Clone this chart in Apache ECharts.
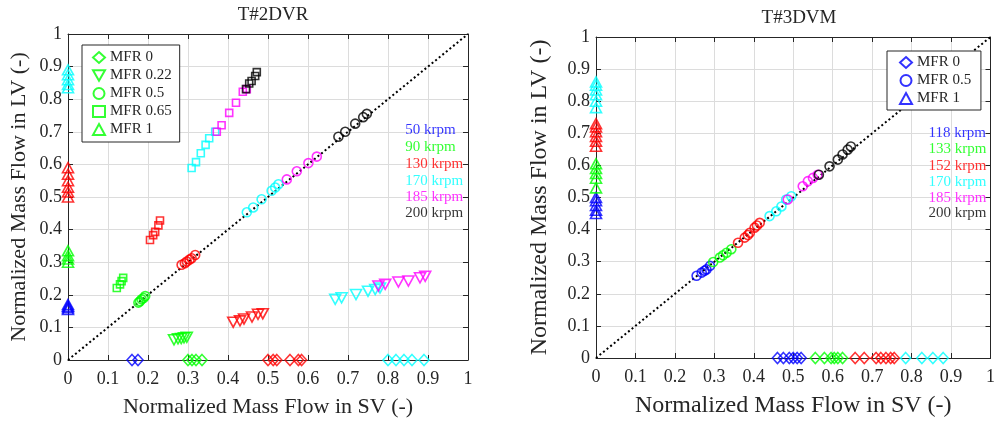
<!DOCTYPE html>
<html><head><meta charset="utf-8">
<script src="https://cdn.jsdelivr.net/npm/echarts@6/dist/echarts.min.js"></script>
<style>html,body{margin:0;padding:0;background:#fff}#c{width:998px;height:423px}</style>
</head><body><div id="c"></div>
<script>
// ---------- Left plot: T#2DVR ----------
var L_title = 'T#2DVR';
var L_mfr0_50  = [[0.16,0],[0.175,0]];
var L_mfr0_90  = [[0.30,0],[0.31,0],[0.32,0],[0.335,0]];
var L_mfr0_130 = [[0.50,0],[0.513,0],[0.522,0],[0.555,0],[0.576,0],[0.584,0]];
var L_mfr0_170 = [[0.80,0],[0.82,0],[0.84,0],[0.86,0],[0.89,0]];

var L_mfr022_90  = [[0.265,0.062],[0.275,0.065],[0.283,0.066],[0.29,0.068],[0.297,0.07]];
var L_mfr022_130 = [[0.413,0.116],[0.43,0.12],[0.44,0.126],[0.46,0.132],[0.475,0.14],[0.487,0.142]];
var L_mfr022_170 = [[0.668,0.186],[0.684,0.191],[0.72,0.201],[0.75,0.211],[0.768,0.216],[0.78,0.221]];
var L_mfr022_185 = [[0.776,0.227],[0.793,0.232],[0.826,0.239],[0.851,0.242],[0.88,0.252],[0.893,0.257]];

var L_mfr05_90  = [[0.176,0.176],[0.18,0.18],[0.184,0.186],[0.189,0.19],[0.193,0.196]];
var L_mfr05_130 = [[0.284,0.292],[0.292,0.297],[0.297,0.302],[0.304,0.308],[0.309,0.312],[0.318,0.322]];
var L_mfr05_170 = [[0.447,0.453],[0.463,0.468],[0.484,0.493],[0.509,0.519],[0.518,0.529],[0.526,0.539]];
var L_mfr05_185 = [[0.547,0.554],[0.572,0.579],[0.601,0.604],[0.622,0.624]];
var L_mfr05_200 = [[0.676,0.685],[0.693,0.700],[0.718,0.725],[0.738,0.745],[0.747,0.755]];

var L_mfr065_90  = [[0.122,0.221],[0.13,0.232],[0.134,0.242],[0.138,0.252]];
var L_mfr065_130 = [[0.205,0.368],[0.213,0.383],[0.218,0.393],[0.226,0.413],[0.23,0.428]];
var L_mfr065_170 = [[0.309,0.589],[0.32,0.607],[0.332,0.634],[0.344,0.660],[0.353,0.680],[0.368,0.700]];
var L_mfr065_185 = [[0.372,0.700],[0.384,0.720],[0.403,0.758],[0.42,0.789],[0.437,0.823],[0.447,0.831]];
var L_mfr065_200 = [[0.445,0.831],[0.453,0.848],[0.459,0.856],[0.468,0.871],[0.472,0.883]];

var L_mfr1_50  = [[0,0.155],[0,0.16],[0,0.165],[0,0.17]];
var L_mfr1_90  = [[0,0.30],[0,0.31],[0,0.32],[0,0.335]];
var L_mfr1_130 = [[0,0.50],[0,0.515],[0,0.53],[0,0.55],[0,0.57],[0,0.59]];
var L_mfr1_170 = [[0,0.835],[0,0.845],[0,0.86],[0,0.875],[0,0.89]];

var L_speeds = ['50 krpm','90 krpm','130 krpm','170 krpm','185 krpm','200 krpm'];

// ---------- Right plot: T#3DVM ----------
var R_title = 'T#3DVM';
var R_mfr0_118 = [[0.46,0],[0.475,0],[0.49,0],[0.50,0],[0.51,0],[0.52,0]];
var R_mfr0_133 = [[0.556,0],[0.579,0],[0.596,0],[0.604,0],[0.613,0],[0.625,0]];
var R_mfr0_152 = [[0.657,0],[0.68,0],[0.71,0],[0.722,0],[0.735,0],[0.747,0],[0.756,0]];
var R_mfr0_170 = [[0.785,0],[0.826,0],[0.854,0],[0.88,0]];

var R_mfr05_118 = [[0.255,0.256],[0.268,0.266],[0.275,0.272],[0.28,0.276],[0.289,0.287]];
var R_mfr05_133 = [[0.297,0.299],[0.314,0.313],[0.322,0.32],[0.331,0.328],[0.343,0.339]];
var R_mfr05_152 = [[0.36,0.359],[0.377,0.375],[0.385,0.383],[0.39,0.39],[0.402,0.406],[0.408,0.413],[0.415,0.421]];
var R_mfr05_170 = [[0.44,0.442],[0.457,0.457],[0.47,0.472],[0.482,0.494],[0.495,0.504]];
var R_mfr05_185 = [[0.486,0.494],[0.524,0.535],[0.537,0.551],[0.55,0.561],[0.562,0.571]];
var R_mfr05_200 = [[0.565,0.571],[0.592,0.597],[0.613,0.618],[0.625,0.634],[0.638,0.649],[0.646,0.659]];

var R_mfr1_118 = [[0,0.45],[0,0.46],[0,0.475],[0,0.49],[0,0.50]];
var R_mfr1_133 = [[0,0.53],[0,0.56],[0,0.575],[0,0.59],[0,0.605]];
var R_mfr1_152 = [[0,0.66],[0,0.675],[0,0.69],[0,0.705],[0,0.72],[0,0.73]];
var R_mfr1_170 = [[0,0.78],[0,0.80],[0,0.82],[0,0.835],[0,0.85],[0,0.86]];

var R_speeds = ['118 krpm','133 krpm','152 krpm','170 krpm','185 krpm','200 krpm'];

var ticks = [0,0.1,0.2,0.3,0.4,0.5,0.6,0.7,0.8,0.9,1];
var diagonal = [[0,0],[1,1]];

// ---------- styling ----------
var C = {blue:'#0000ff', green:'#00ff00', red:'#ff0000', cyan:'#00ffff', magenta:'#ff00ff', black:'#000000'};
var speedColors = [C.blue, C.green, C.red, C.cyan, C.magenta, C.black];
var FONT = '"Liberation Serif", "Times New Roman", serif';
var DOWN = 'path://M0,0L20,0L10,17.3Z';
var SYM = {
  d: {symbol:'diamond', size:[10,11]},
  v: {symbol:DOWN, size:[11,10]},
  o: {symbol:'circle', size:9},
  s: {symbol:'rect', size:7},
  t: {symbol:'triangle', size:[11,10]}
};

var series = [];
function sc(name, gi, data, mk, color) {
  series.push({
    type:'scatter', name:name, xAxisIndex:gi, yAxisIndex:gi, data:data,
    symbol:SYM[mk].symbol, symbolSize:SYM[mk].size,
    itemStyle:{color:'rgba(0,0,0,0)', borderColor:color, borderWidth:1.6},
    emphasis:{disabled:true}, z:3
  });
}
function diag(gi) {
  series.push({type:'line', xAxisIndex:gi, yAxisIndex:gi, data:diagonal, symbol:'none',
    lineStyle:{color:'#000', width:2, type:[2,2.6]}, z:2, silent:true});
}
function speedText(gi, names, ys) {
  series.push({type:'scatter', xAxisIndex:gi, yAxisIndex:gi, symbolSize:0, silent:true, z:5,
    data: names.map(function(n,i){ return {value:[0.843, ys[i]], name:n,
      label:{show:true, position:'right', distance:0, formatter:n, color:speedColors[i], fontFamily:FONT, fontSize:15}}; })
  });
}

// left plot series (first-named series supply legend icons)
diag(0);
sc('MFR 0', 0, L_mfr0_90, 'd', C.green);
sc('MFR 0.22', 0, L_mfr022_90, 'v', C.green);
sc('MFR 0.5', 0, L_mfr05_90, 'o', C.green);
sc('MFR 0.65', 0, L_mfr065_90, 's', C.green);
sc('MFR 1', 0, L_mfr1_90, 't', C.green);
sc('L0-50', 0, L_mfr0_50, 'd', C.blue);
sc('L0-130', 0, L_mfr0_130, 'd', C.red);
sc('L0-170', 0, L_mfr0_170, 'd', C.cyan);
sc('L22-130', 0, L_mfr022_130, 'v', C.red);
sc('L22-170', 0, L_mfr022_170, 'v', C.cyan);
sc('L22-185', 0, L_mfr022_185, 'v', C.magenta);
sc('L5-130', 0, L_mfr05_130, 'o', C.red);
sc('L5-170', 0, L_mfr05_170, 'o', C.cyan);
sc('L5-185', 0, L_mfr05_185, 'o', C.magenta);
sc('L5-200', 0, L_mfr05_200, 'o', C.black);
sc('L65-130', 0, L_mfr065_130, 's', C.red);
sc('L65-170', 0, L_mfr065_170, 's', C.cyan);
sc('L65-185', 0, L_mfr065_185, 's', C.magenta);
sc('L65-200', 0, L_mfr065_200, 's', C.black);
sc('L1-50', 0, L_mfr1_50, 't', C.blue);
sc('L1-130', 0, L_mfr1_130, 't', C.red);
sc('L1-170', 0, L_mfr1_170, 't', C.cyan);
speedText(0, L_speeds, [0.704,0.653,0.601,0.550,0.500,0.450]);

// right plot series
diag(1);
sc('MFR 0 ', 1, R_mfr0_118, 'd', C.blue);
sc('MFR 0.5 ', 1, R_mfr05_118, 'o', C.blue);
sc('MFR 1 ', 1, R_mfr1_118, 't', C.blue);
sc('R0-133', 1, R_mfr0_133, 'd', C.green);
sc('R0-152', 1, R_mfr0_152, 'd', C.red);
sc('R0-170', 1, R_mfr0_170, 'd', C.cyan);
sc('R5-133', 1, R_mfr05_133, 'o', C.green);
sc('R5-152', 1, R_mfr05_152, 'o', C.red);
sc('R5-170', 1, R_mfr05_170, 'o', C.cyan);
sc('R5-185', 1, R_mfr05_185, 'o', C.magenta);
sc('R5-200', 1, R_mfr05_200, 'o', C.black);
sc('R1-133', 1, R_mfr1_133, 't', C.green);
sc('R1-152', 1, R_mfr1_152, 't', C.red);
sc('R1-170', 1, R_mfr1_170, 't', C.cyan);
speedText(1, R_speeds, [0.701,0.651,0.599,0.549,0.497,0.450]);

var grids = [
  {left:68, top:34, width:400, height:331},
  {left:596, top:37, width:396, height:322}
];
var AX = '#262626';
function mainX(gi, nameSize) {
  return {type:'value', gridIndex:gi, min:0, max:1, interval:0.1, position:'bottom',
    name:'Normalized Mass Flow in SV (-)', nameLocation:'middle', nameGap:36,
    nameTextStyle:{fontFamily:FONT, fontSize:nameSize, color:AX},
    axisLine:{show:true, lineStyle:{color:AX, width:1}},
    axisTick:{show:true, inside:true, length:5, lineStyle:{color:AX}},
    axisLabel:{fontFamily:FONT, fontSize:18, color:AX, margin:10,
      formatter:function(v){ return String(Math.round(v*10)/10); }},
    splitLine:{show:true, lineStyle:{color:'#dcdcdc', width:1}}};
}
function mainY(gi, nameSize, gap) {
  return {type:'value', gridIndex:gi, min:0, max:1, interval:0.1, position:'left',
    name:'Normalized Mass Flow in LV (-)', nameLocation:'middle', nameGap:gap,
    nameTextStyle:{fontFamily:FONT, fontSize:nameSize, color:AX},
    axisLine:{show:true, lineStyle:{color:AX, width:1}},
    axisTick:{show:true, inside:true, length:5, lineStyle:{color:AX}},
    axisLabel:{fontFamily:FONT, fontSize:18, color:AX, margin:6,
      formatter:function(v){ return String(Math.round(v*10)/10); }},
    splitLine:{show:true, lineStyle:{color:'#dcdcdc', width:1}}};
}
function sideAx(gi, pos) {
  return {type:'value', gridIndex:gi, min:0, max:1, interval:0.1, position:pos,
    axisLine:{show:true, onZero:false, lineStyle:{color:AX, width:1}},
    axisTick:{show:true, inside:true, length:5, lineStyle:{color:AX}},
    axisLabel:{show:false}, splitLine:{show:false}};
}

var option = {
  animation:false,
  backgroundColor:'#fff',
  title:[
    {text:L_title, left:268, top:1, textAlign:'center', textStyle:{fontFamily:FONT, fontSize:19, fontWeight:'normal', color:AX}},
    {text:R_title, left:794, top:4, textAlign:'center', textStyle:{fontFamily:FONT, fontSize:19, fontWeight:'normal', color:AX}}
  ],
  grid:grids,
  xAxis:[mainX(0,22), mainX(1,24), sideAx(0,'top'), sideAx(1,'top')],
  yAxis:[mainY(0,22,38), mainY(1,24,44), sideAx(0,'right'), sideAx(1,'right')],
  legend:[
    {data:['MFR 0','MFR 0.22','MFR 0.5','MFR 0.65','MFR 1'], orient:'vertical', left:82, top:45,
     backgroundColor:'#fff', borderColor:AX, borderWidth:1, padding:[5,8,5,10], itemGap:3,
     itemWidth:12, itemHeight:11, selectedMode:false,
     textStyle:{fontFamily:FONT, fontSize:15, color:AX}},
    {data:['MFR 0 ','MFR 0.5 ','MFR 1 '], orient:'vertical', left:887, top:51,
     backgroundColor:'#fff', borderColor:AX, borderWidth:1, padding:[4,6,4,12], itemGap:3,
     itemWidth:12, itemHeight:11, selectedMode:false,
     textStyle:{fontFamily:FONT, fontSize:15, color:AX}}
  ],
  series:series
};
var chart = echarts.init(document.getElementById('c'), null, {renderer:'canvas'});
chart.setOption(option);
</script></body></html>
